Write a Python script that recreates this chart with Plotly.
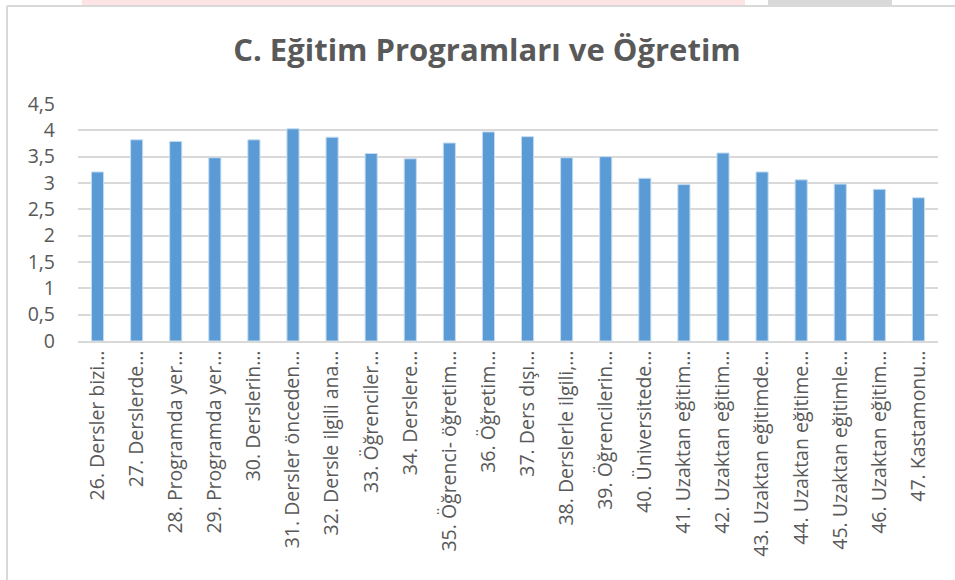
import plotly.graph_objects as go

categories = [
    "26. Dersler bizi…", "27. Derslerde…", "28. Programda yer…", "29. Programda yer…",
    "30. Derslerin…", "31. Dersler önceden…", "32. Dersle ilgili ana…", "33. Öğrenciler…",
    "34. Derslere…", "35. Öğrenci- öğretim…", "36. Öğretim…", "37. Ders dışı…",
    "38. Derslerle ilgili,…", "39. Öğrencilerin…", "40. Üniversitede…", "41. Uzaktan eğitim…",
    "42. Uzaktan eğitim…", "43. Uzaktan eğitimde…", "44. Uzaktan eğitime…", "45. Uzaktan eğitimle…",
    "46. Uzaktan eğitim…", "47. Kastamonu…",
]
values = [3.21, 3.82, 3.79, 3.48, 3.82, 4.03, 3.87, 3.56, 3.46, 3.76, 3.97,
          3.88, 3.48, 3.50, 3.09, 2.97, 3.57, 3.21, 3.06, 2.98, 2.88, 2.72]
y_ticks = [0, 0.5, 1, 1.5, 2, 2.5, 3, 3.5, 4, 4.5]
y_tick_labels = ["0", "0,5", "1", "1,5", "2", "2,5", "3", "3,5", "4", "4,5"]
title_text = "C. Eğitim Programları ve Öğretim"

W, H = 955, 580
L, R, T, B = 78, 17, 104, 239
pw, ph = W - L - R, H - T - B

def px(x):
    return (x - L) / pw

def py(y):
    return (H - B - y) / ph

fig = go.Figure(go.Bar(
    x=list(range(len(categories))),
    y=values,
    marker=dict(color="#5b9bd5", line=dict(color="#c5dcf0", width=1)),
))

fig.update_layout(
    width=W, height=H,
    paper_bgcolor="white", plot_bgcolor="white",
    margin=dict(l=L, r=R, t=T, b=B, autoexpand=False),
    bargap=0.69,
    showlegend=False,
    font=dict(family="Open Sans", color="#595959", size=16),
    title=dict(text="<b>" + title_text + "</b>", x=487 / W, xanchor="center",
               y=1 - 50 / H, yanchor="middle",
               font=dict(family="Open Sans", size=31, color="#595959")),
    xaxis=dict(
        tickmode="array", tickvals=list(range(len(categories))), ticktext=categories,
        tickangle=-90, showgrid=False, zeroline=False,
        showline=True, linecolor="#d9d9d9", linewidth=1.5,
        ticks="", tickfont=dict(size=19.5, color="#595959"),
        range=[-0.5, len(categories) - 0.5],
    ),
    yaxis=dict(
        range=[0, 4.5], tickmode="array", tickvals=y_ticks, ticktext=y_tick_labels,
        showgrid=True, gridcolor="#d9d9d9", gridwidth=1.5,
        zeroline=False, showline=False, ticks="", ticklen=0,
        ticklabelstandoff=22,
        tickfont=dict(size=19.5, color="#595959"),
    ),
    shapes=[
        dict(type="rect", xref="paper", yref="paper", x0=px(82), x1=px(745), y0=py(0), y1=py(5),
             fillcolor="#fde3e3", line=dict(width=0), layer="below"),
        dict(type="rect", xref="paper", yref="paper", x0=px(768), x1=px(892), y0=py(0), y1=py(5),
             fillcolor="#d9d9d9", line=dict(width=0), layer="below"),
        dict(type="line", xref="paper", yref="paper", x0=px(7), x1=px(955), y0=py(6), y1=py(6),
             line=dict(color="#d9d9d9", width=2)),
        dict(type="line", xref="paper", yref="paper", x0=px(7), x1=px(7), y0=py(6), y1=py(580),
             line=dict(color="#d9d9d9", width=2)),
    ],
)

fig.write_html("out.html", config={"displayModeBar": False},
               post_script="document.body.style.margin='0';")
